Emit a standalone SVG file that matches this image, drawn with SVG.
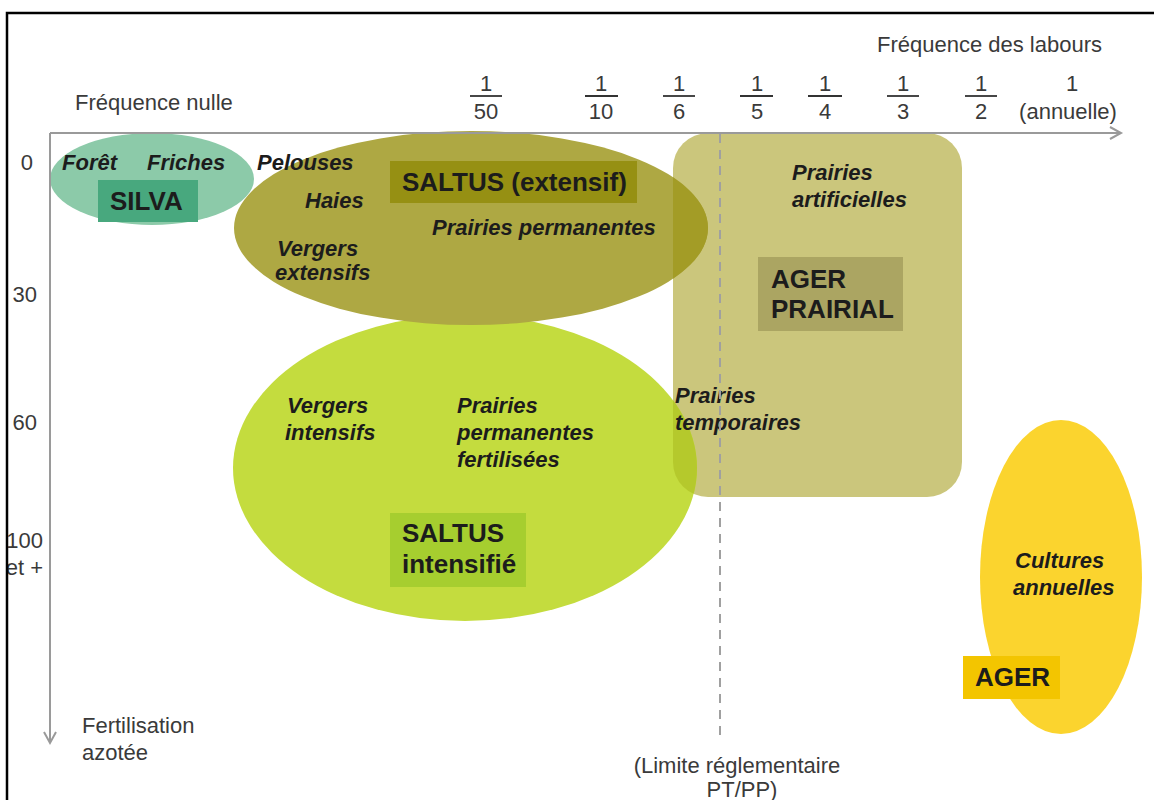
<svg xmlns="http://www.w3.org/2000/svg" width="1154" height="800" viewBox="0 0 1154 800">
<defs>
<style>
.ax{font-family:"Liberation Sans",Arial,sans-serif;font-size:22px;fill:#3a3a3a}
.axm{font-family:"Liberation Sans",Arial,sans-serif;font-size:22px;fill:#3a3a3a;text-anchor:middle}
.it{font-family:"Liberation Sans",Arial,sans-serif;font-size:22px;font-weight:bold;font-style:italic;fill:#1c1c1c}
.bx{font-family:"Liberation Sans",Arial,sans-serif;font-size:26px;font-weight:bold;fill:#1c1c1c}
.axis{stroke:#9a9a9a;stroke-width:2;fill:none}
.frac{stroke:#333;stroke-width:1.8}
</style>
<clipPath id="rectClip"><rect x="673" y="133" width="289" height="364" rx="35"/></clipPath>
</defs>
<rect x="0" y="0" width="1154" height="800" fill="#ffffff"/>

<g id="labels-axes">
<text class="ax" x="75" y="110">Fréquence nulle</text>
<text class="ax" x="877" y="52">Fréquence des labours</text>
<g id="fractions">
<text class="axm" x="486" y="91">1</text><line class="frac" x1="470" y1="96" x2="502" y2="96"/><text class="axm" x="486" y="119">50</text>
<text class="axm" x="601" y="91">1</text><line class="frac" x1="585" y1="96" x2="618" y2="96"/><text class="axm" x="601" y="119">10</text>
<text class="axm" x="679" y="91">1</text><line class="frac" x1="663" y1="96" x2="695" y2="96"/><text class="axm" x="679" y="119">6</text>
<text class="axm" x="757" y="91">1</text><line class="frac" x1="740" y1="96" x2="773" y2="96"/><text class="axm" x="757" y="119">5</text>
<text class="axm" x="825" y="91">1</text><line class="frac" x1="808" y1="96" x2="842" y2="96"/><text class="axm" x="825" y="119">4</text>
<text class="axm" x="903" y="91">1</text><line class="frac" x1="887" y1="96" x2="919" y2="96"/><text class="axm" x="903" y="119">3</text>
<text class="axm" x="981" y="91">1</text><line class="frac" x1="965" y1="96" x2="997" y2="96"/><text class="axm" x="981" y="119">2</text>
<text class="axm" x="1072" y="91">1</text><text class="axm" x="1068" y="119">(annuelle)</text>
</g>
<text class="ax" x="33" y="170" text-anchor="end">0</text>
<text class="ax" x="37" y="302" text-anchor="end">30</text>
<text class="ax" x="37" y="430" text-anchor="end">60</text>
<text class="ax" x="43" y="548" text-anchor="end">100</text>
<text class="ax" x="43" y="575" text-anchor="end">et +</text>
<text class="ax" x="82" y="733">Fertilisation</text>
<text class="ax" x="82" y="760">azotée</text>
<text class="axm" x="737" y="773">(Limite réglementaire</text>
<text class="axm" x="742" y="797">PT/PP)</text>
</g>

<g id="ager-prairial">
<rect x="673" y="133" width="289" height="364" rx="35" fill="#cbc67c"/>
</g>

<g id="saltus-intensifie">
<ellipse cx="465" cy="468" rx="232" ry="153" fill="#c4dc3e"/>
<ellipse cx="465" cy="468" rx="232" ry="153" fill="#b5c92c" clip-path="url(#rectClip)"/>
<rect x="390" y="513" width="136" height="74" fill="#a6ce2f"/>
<text class="bx" x="402" y="542">SALTUS</text>
<text class="bx" x="402" y="573">intensifié</text>
<text class="it" x="287" y="413">Vergers</text>
<text class="it" x="285" y="440">intensifs</text>
<text class="it" x="457" y="413">Prairies</text>
<text class="it" x="457" y="440">permanentes</text>
<text class="it" x="457" y="467">fertilisées</text>
</g>

<g id="saltus-extensif">
<ellipse cx="471" cy="228" rx="237" ry="97" fill="#aea843"/>
<ellipse cx="471" cy="228" rx="237" ry="97" fill="#a39c26" clip-path="url(#rectClip)"/>
<rect x="390" y="161" width="247" height="42" fill="#969013"/>
<text class="bx" x="402" y="191">SALTUS (extensif)</text>
<text class="it" x="432" y="235">Prairies permanentes</text>
<text class="it" x="257" y="170">Pelouses</text>
<text class="it" x="305" y="208">Haies</text>
<text class="it" x="277" y="256">Vergers</text>
<text class="it" x="275" y="280">extensifs</text>
</g>

<g id="ager-prairial-labels">
<rect x="758" y="257" width="145" height="74" fill="#aba562"/>
<text class="bx" x="771" y="288">AGER</text>
<text class="bx" x="771" y="318">PRAIRIAL</text>
<text class="it" x="792" y="180">Prairies</text>
<text class="it" x="792" y="207">artificielles</text>
<text class="it" x="675" y="403">Prairies</text>
<text class="it" x="675" y="430">temporaires</text>
</g>

<g id="silva">
<ellipse cx="152" cy="179" rx="102" ry="46" fill="#8ccaa9"/>
<rect x="98" y="180" width="100" height="42" fill="#48a87e"/>
<text class="bx" x="110" y="210">SILVA</text>
<text class="it" x="62" y="170">Forêt</text>
<text class="it" x="147" y="170">Friches</text>
</g>

<g id="ager">
<ellipse cx="1061" cy="577" rx="81" ry="157" fill="#fbd42e"/>
<rect x="963" y="656" width="97" height="43" fill="#f3c500"/>
<text class="bx" x="975" y="686">AGER</text>
<text class="it" x="1015" y="568">Cultures</text>
<text class="it" x="1013" y="595">annuelles</text>
</g>

<g id="connectors">
<line x1="720" y1="134" x2="720" y2="738" stroke="#a0a0a0" stroke-width="2" stroke-dasharray="9,7"/>
<line class="axis" x1="50" y1="133" x2="1121" y2="133"/>
<polyline class="axis" points="1110,127 1121,133 1110,139"/>
<line class="axis" x1="50" y1="133" x2="50" y2="743"/>
<polyline class="axis" points="44,732 50,743 56,732"/>
</g>

<rect x="7" y="13" width="1170" height="820" fill="none" stroke="#000" stroke-width="2.5"/>
</svg>
